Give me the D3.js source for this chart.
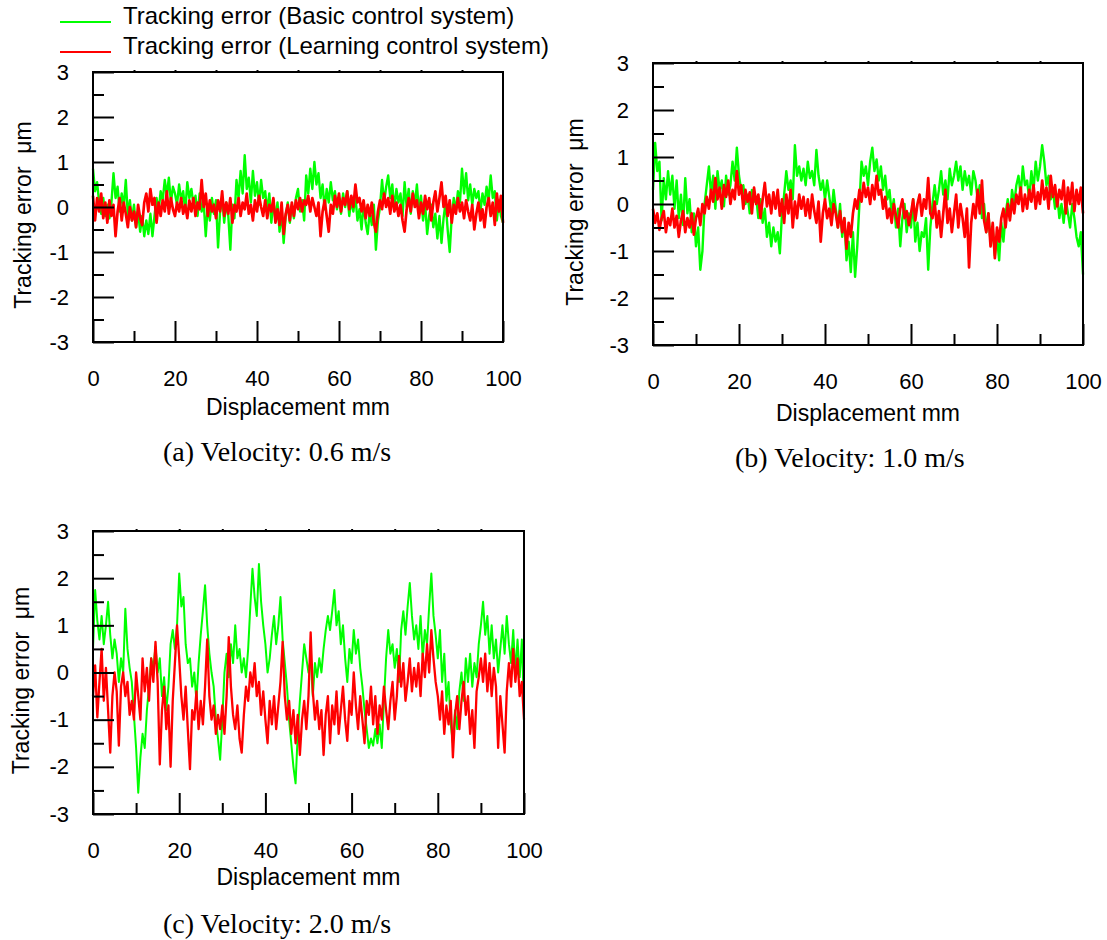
<!DOCTYPE html>
<html>
<head>
<meta charset="utf-8">
<script src="https://cdn.jsdelivr.net/npm/d3@7"></script>
<style>
  body { margin: 0; background: #fff; }
  svg { display: block; }
</style>
</head>
<body>
<svg id="chart" width="1107" height="940"></svg>
<script>
// tracking error charts, three velocities

const seriesNames = ['Tracking error (Basic control system)', 'Tracking error (Learning control system)'];
const captions = ['(a) Velocity: 0.6 m/s', '(b) Velocity: 1.0 m/s', '(c) Velocity: 2.0 m/s'];
const xTicks = [0, 20, 40, 60, 80, 100];
const yTicks = [-3, -2, -1, 0, 1, 2, 3];
const xMinor = [10, 30, 50, 70, 90];
const yMinor = [-2.5, -1.5, -0.5, 0.5, 1.5, 2.5];

// displacement samples, mm (every 0.5 mm)
const displacement = d3.range(0, 100.001, 0.5);

// (a) 0.6 m/s
const basicA = [
  0.85, 0.35, 0.55, 0.1, -0.15, 0.2, -0.2, 0.05, -0.25, 0.1,
  0.75, 0.2, 0.45, -0.1, 0.3, 0.0, 0.6, -0.2, 0.15, -0.3,
  0.05, -0.45, -0.1, -0.55, -0.2, -0.65, -0.3, -0.6, -0.15, -0.65,
  -0.2, 0.2, -0.1, 0.35, 0.15, 0.6, 0.25, 0.65, 0.1, 0.45,
  0.3, 0.05, 0.5, 0.15, 0.35, -0.1, 0.55, 0.2, 0.4, 0.05,
  0.25, -0.2, 0.3, -0.1, 0.1, -0.65, 0.05, -0.3, 0.2, -0.15,
  0.15, -0.9, -0.1, 0.2, -0.35, 0.1, -0.2, -0.95, 0.05, -0.25,
  0.6, 0.2, 0.8, 0.3, 1.15, 0.4, 0.65, 0.1, 0.8, 0.25,
  0.55, 0.05, 0.6, 0.2, 0.35, -0.1, 0.3, -0.35, 0.15, -0.3,
  0.1, -0.55, -0.1, -0.8, -0.2, 0.1, -0.35, 0.05, -0.25, 0.2,
  0.4, -0.1, 0.15, -0.3, 0.7, 0.3, 0.85, 0.4, 1.0, 0.5,
  0.75, 0.2, 0.5, -0.05, 0.4, 0.1, 0.55, 0.15, 0.35, -0.05,
  0.2, -0.15, 0.3, 0.0, 0.35, -0.2, 0.15, -0.1, 0.25, -0.3,
  -0.05, -0.5, 0.1, -0.35, -0.6, -0.1, -0.4, 0.05, -0.95, -0.3,
  0.0, 0.6, 0.1, 0.45, 0.7, 0.2, 0.5, -0.05, 0.4, 0.1,
  0.3, -0.2, 0.55, 0.0, 0.4, -0.15, 0.35, 0.05, 0.5, -0.1,
  0.25, -0.3, 0.1, -0.6, -0.2, 0.05, -0.45, -0.15, -0.7, -0.2,
  -0.8, -0.25, 0.1, -0.5, -1.0, -0.2, 0.2, -0.1, 0.35, 0.1,
  0.85, 0.3, 0.75, 0.15, 0.5, 0.05, 0.4, 0.2, 0.35, -0.1,
  0.3, 0.05, 0.45, 0.15, 0.7, 0.2, 0.35, -0.3, 0.15, -0.2,
  -0.35
];
const learningA = [
  0.25, -0.3, 0.2, -0.1, 0.3, -0.25, 0.1, -0.35, 0.15, -0.2,
  0.05, -0.65, -0.1, 0.2, -0.3, 0.1, -0.15, -0.45, 0.0, -0.3,
  -0.1, -0.45, 0.05, -0.25, -0.4, 0.1, 0.3, -0.1, 0.4, 0.05,
  0.2, -0.35, 0.1, -0.2, 0.15, -0.1, 0.35, -0.15, 0.2, -0.05,
  -0.2, 0.1, -0.1, 0.2, -0.15, 0.05, -0.25, 0.15, -0.1, 0.2,
  -0.2, 0.1, -0.05, 0.6, 0.0, 0.3, -0.2, 0.15, -0.1, 0.05,
  -0.25, 0.15, -0.1, 0.35, -0.2, 0.1, -0.15, 0.2, -0.35, 0.05,
  -0.1, 0.2, -0.2, 0.1, -0.05, 0.3, -0.15, 0.05, -0.3, 0.15,
  -0.1, 0.25, 0.0, -0.2, 0.15, -0.25, 0.05, -0.1, 0.2, -0.35,
  -0.05, -0.4, 0.1, -0.6, -0.15, 0.05, -0.3, 0.1, -0.2, 0.15,
  -0.05, 0.2, -0.1, 0.15, 0.05, 0.25, -0.1, 0.2, 0.0, -0.2,
  0.1, -0.65, -0.1, 0.15, -0.2, -0.55, 0.05, -0.15, 0.25, 0.0,
  0.3, -0.1, 0.2, 0.05, 0.35, -0.05, 0.25, 0.0, 0.5, 0.1,
  0.2, -0.1, 0.15, -0.25, 0.05, -0.2, 0.1, -0.35, -0.55, -0.1,
  0.15, -0.05, 0.3, 0.0, 0.2, -0.15, 0.25, -0.1, 0.1, -0.2,
  0.05, -0.3, -0.55, -0.05, 0.2, -0.1, 0.3, 0.0, 0.15, -0.25,
  0.1, -0.15, 0.25, -0.05, 0.2, -0.3, 0.1, 0.35, -0.1, 0.2,
  0.55, 0.0, 0.25, -0.2, 0.15, -0.35, 0.05, -0.15, 0.2, -0.1,
  0.1, -0.25, 0.15, -0.1, -0.3, 0.05, -0.5, -0.15, 0.1, -0.3,
  -0.05, -0.45, 0.0, 0.2, -0.2, 0.1, -0.4, 0.3, -0.1, 0.25,
  -0.35
];

// (b) 1.0 m/s
const basicB = [
  0.3, 1.3, 0.7, 0.9, -0.35, 0.55, 0.1, 0.7, 0.2, 0.6,
  -0.1, 0.5, -0.3, 0.2, -0.45, 0.55, -0.2, 0.1, -0.6, -0.2,
  -0.9, -0.5, -1.4, -1.0, 0.0, 0.4, 0.8, 0.2, 0.6, -0.1,
  0.7, 0.3, 0.5, -0.05, 0.6, 0.2, 0.4, 0.9, 0.5, 1.2,
  0.6, 0.3, 0.4, 0.0, 0.2, -0.2, 0.3, 0.05, 0.15, -0.3,
  0.1, -0.4, -0.1, -0.7, -0.4, -0.9, -0.5, -0.8, -0.6, -1.05,
  -0.2, 0.2, 0.7, 0.3, 0.5, 0.1, 1.25, 0.6, 0.8, 0.5,
  0.75, 0.4, 0.9, 0.55, 0.7, 0.4, 1.15, 0.6, 0.3, 0.5,
  0.1, 0.5, 0.15, -0.2, 0.3, -0.1, -0.5, 0.0, -0.7, -0.3,
  -1.2, -0.8, -1.45, -0.6, -1.55, -0.9, 0.0, 0.9, 0.6, 0.8,
  0.4, 0.9, 1.2, 0.7, 0.95, 0.5, 0.8, 0.3, 0.6, 0.1,
  0.3, -0.2, 0.1, -0.5, -0.1, -0.9, -0.3, 0.0, -0.6, -0.2,
  -0.5, 0.1, -0.8, -0.4, -1.0, -0.6, -0.7, -0.3, -1.4, -0.5,
  0.0, 0.4, 0.0, 0.3, 0.7, 0.2, 0.5, 0.1, 0.75, 0.4,
  0.6, 0.9, 0.5, 0.8, 0.3, 0.7, 0.4, 0.6, 0.2, 0.7,
  0.5, 0.1, 0.4, -0.3, 0.0, -0.6, -0.2, -0.8, -0.5, -1.1,
  -0.7, -1.2, -0.4, -0.8, -0.2, 0.1, -0.3, 0.3, 0.0, 0.4,
  0.6, 0.2, 0.8, 0.4, 0.5, 0.1, 0.7, 0.3, 0.9, 0.5,
  0.8, 1.25, 0.9, 0.4, 0.6, 0.1, 0.3, -0.1, 0.2, -0.3,
  0.0, -0.4, 0.1, -0.2, -0.5, 0.0, -0.3, -0.7, -0.9, -0.6,
  -1.5
];
const learningB = [
  -0.1, -0.4, -0.2, -0.55, -0.3, -0.15, -0.6, -0.3, -0.45, -0.1,
  -0.5, -0.25, -0.7, -0.35, -0.15, -0.6, -0.3, -0.5, -0.2, -0.65,
  -0.3, -0.1, -0.45, 0.0, -0.2, 0.15, -0.1, 0.3, 0.05, 0.55,
  0.1, 0.35, -0.1, 0.4, 0.15, 0.5, 0.0, 0.3, 0.1, 0.7,
  0.2, 0.4, -0.1, 0.3, 0.05, 0.25, -0.2, 0.35, 0.0, 0.2,
  -0.3, 0.1, 0.45, -0.05, 0.2, -0.2, 0.25, -0.1, 0.3, -0.25,
  0.1, -0.4, 0.2, -0.2, 0.3, -0.5, 0.05, -0.3, 0.2, -0.1,
  0.15, -0.25, 0.1, -0.3, 0.2, -0.15, -0.4, 0.05, -0.8, -0.2,
  0.1, -0.3, -0.1, -0.45, 0.0, -0.2, -0.5, -0.15, -0.6, -0.3,
  -0.95, -0.4, -0.7, -0.2, 0.1, -0.1, 0.3, 0.05, 0.45, 0.15,
  0.35, 0.0, 0.4, 0.1, 0.6, 0.2, 0.3, -0.1, 0.15, -0.3,
  -0.1, -0.4, 0.0, -0.25, -0.5, -0.1, 0.1, -0.3, -0.15, -0.45,
  -0.2, 0.1, -0.35, 0.0, 0.2, -0.25, 0.1, -0.1, 0.55, -0.2,
  -0.3, 0.05, -0.5, -0.15, -0.7, -0.2, 0.3, -0.4, -0.1, -0.6,
  -0.2, 0.2, -0.5, 0.0, -0.3, -0.7, -0.1, -1.35, -0.4, 0.0,
  -0.3, 0.3, -0.2, 0.5, -0.35, -0.6, -0.2, -0.9, -0.4, -1.15,
  -0.5, -0.8, -0.3, -0.1, -0.5, 0.0, -0.35, 0.1, -0.2, 0.2,
  0.0, 0.35, -0.15, 0.2, -0.1, 0.3, 0.05, 0.4, -0.1, 0.25,
  0.0, 0.5, 0.1, 0.35, -0.1, 0.6, 0.15, 0.4, -0.05, 0.3,
  0.1, 0.5, -0.2, 0.35, 0.0, 0.45, -0.15, 0.3, 0.0, 0.35,
  -0.2
];

// (c) 2.0 m/s
const basicC = [
  0.5, 1.75, 1.1, 0.7, 1.2, 0.6, 1.0, 1.5, 0.8, 0.3,
  0.7, 0.4, -0.2, 0.3, 0.0, 1.35, 0.5, 0.1, -0.2, -0.9,
  -1.6, -2.55, -1.8, -1.3, -1.6, -0.8, -0.3, 0.3, 0.1, 0.55,
  0.0, 0.3, -0.5, -0.1, -0.8, -0.3, 0.6, 0.9, 0.5, 1.0,
  2.1, 1.4, 1.6, 0.6, 0.2, 0.3, -0.3, 0.0, -0.6, 0.2,
  0.8, 1.3, 1.85, 1.0, 0.4, 0.0, -0.3, -1.0, -1.4, -1.85,
  -1.0, 0.0, 0.4, -0.1, 0.6, 0.2, 1.0, 0.3, 0.5, 0.0,
  0.3, -0.1, 0.5, 1.4, 2.2, 1.6, 1.2, 2.3, 1.5, 1.0,
  0.6, 0.0, 0.3, 0.8, 1.2, 0.6, 1.0, 1.6, 0.7, 0.2,
  -0.3, -1.0, -1.5, -2.0, -2.35, -1.3, -0.6, 0.0, 0.6, 0.3,
  0.0, 0.3, -0.5, 0.2, -0.1, 0.3, 0.0, 0.5, 0.9, 1.2,
  0.9, 1.3, 1.75, 1.0, 1.3, 0.6, 1.0, 0.3, -0.2, 0.5,
  0.2, 0.9, 0.4, 0.7, 0.1, -0.3, -0.8, -1.2, -1.6, -1.4,
  -1.55, -1.2, -1.5, -1.1, -1.6, -0.6, 0.3, 0.9, 0.4, 0.6,
  0.1, 0.5, -0.2, 0.9, 1.3, 0.8, 1.4, 1.9, 1.2, 0.7,
  1.0, 0.5, 1.2, 0.3, 0.9, 0.6, 1.4, 2.1, 1.2, 0.8,
  0.3, 0.9, -0.2, 0.4, -0.6, -0.2, -1.1, -1.5, -0.8, -1.2,
  -0.4, 0.0, -0.6, 0.3, -0.2, 0.4, -0.3, 0.2, -0.1, 0.6,
  1.0, 1.5, 0.8, 1.2, 0.4, 1.0, 0.3, 0.7, 0.0, 0.5,
  1.0, 0.4, 1.2, 0.6, 0.2, 0.9, 0.0, 0.7, -0.1, 0.7,
  -0.8
];
const learningC = [
  -0.5, 0.15, -0.95, -0.2, 0.5, -0.6, 0.1, -0.8, -1.7, -0.5,
  0.0, -0.4, -1.55, -0.3, 0.0, -0.5, -0.2, -0.9, -0.6, -1.0,
  0.0, -0.5, -1.0, 0.3, -0.4, 0.1, -0.6, 0.3, -0.2, 0.65,
  -0.2, -1.95, -0.8, -0.3, -1.2, -0.7, -2.0, -0.6, 0.2, 1.0,
  0.3, -0.5, -1.0, -0.3, -1.2, -2.05, -0.8, -1.0, -0.4, -1.2,
  -0.6, -1.1, -0.3, 0.7, -0.5, -1.0, -0.7, -1.3, -0.9, -1.2,
  -0.7, -1.3, -0.5, 0.75, -0.3, -0.9, -1.2, -0.7, -1.4, -1.7,
  -0.9, -0.3, -0.6, 0.0, -0.3, 0.2, -0.5, -0.2, -0.9, -0.4,
  -1.0, -1.5, -0.6, -1.1, -0.5, -1.2, -0.7, -0.2, 0.65, -0.5,
  -1.0, -0.6, -1.3, -0.8, -1.5, -0.9, -1.75, -1.0, -0.6, -1.2,
  -0.5, 0.85, -0.4, -1.0, -0.6, -1.2, -0.8, -1.75, -0.9, -0.5,
  -1.5, -0.7, -1.1, -0.4, -1.3, -0.8, -0.3, -1.0, -1.45, -0.6,
  -0.9, 0.0, -0.7, -1.2, -0.5, -1.0, -1.5, -0.6, -0.9, -0.3,
  -1.1, -0.5, -1.3, -0.7, -1.0, -0.3, -0.8, -1.2, -0.6, -0.2,
  -1.0, -0.5, 0.35, -0.3, 0.2, -0.6, -0.2, 0.3, -0.4, 0.1,
  -0.3, 0.2, -0.5, 0.4, -0.1, 0.6, 0.0, 0.9, 0.3, -0.2,
  -0.5, -1.0, -0.4, -1.3, -0.7, -1.1, -0.6, -1.8, -0.9, -0.5,
  -1.2, -0.6, -0.2, -0.9, -0.5, -1.3, -0.8, -1.6, -0.4, -0.1,
  0.3, -0.2, 0.4, -0.4, 0.2, -0.5, 0.1, -0.3, -1.6, -0.5,
  -1.1, -1.7, -0.4, 0.2, -0.3, 0.5, -0.2, 0.3, -0.5, -0.2,
  -1.0
];

const COLORS = { basic: '#00ff00', learning: '#ff0000' };
const SANS = 'Liberation Sans, Arial, sans-serif';
const SERIF = 'Liberation Serif, Times New Roman, serif';

const svg = d3.select('#chart');

function drawPanel(box, basic, learning, caption) {
  const { left, top, width, height, lw } = box;
  const g = svg.append('g').attr('transform', `translate(${left},${top})`);

  const x = d3.scaleLinear().domain([0, 100]).range([0, width]);
  const y = d3.scaleLinear().domain([-3, 3]).range([height, 0]);

  const line = d3.line()
    .x((d, i) => x(displacement[i]))
    .y(d => y(d));

  g.append('path')
    .datum(basic)
    .attr('fill', 'none')
    .attr('stroke', COLORS.basic)
    .attr('stroke-width', lw)
    .attr('stroke-linejoin', 'round')
    .attr('d', line);

  g.append('path')
    .datum(learning)
    .attr('fill', 'none')
    .attr('stroke', COLORS.learning)
    .attr('stroke-width', lw + 0.3)
    .attr('stroke-linejoin', 'round')
    .attr('d', line);

  const styleAxis = a => {
    a.select('.domain').remove();
    a.selectAll('.tick line').attr('stroke', '#000').attr('stroke-width', 2);
    a.selectAll('.tick text')
      .attr('fill', '#000')
      .attr('font-family', SANS)
      .attr('font-size', '22px');
  };

  // major / minor ticks, pointing inward
  g.append('g')
    .call(d3.axisLeft(y).tickValues(yTicks).tickSize(-21).tickPadding(24).tickFormat(d => String(d)))
    .call(styleAxis);
  g.append('g')
    .call(d3.axisLeft(y).tickValues(yMinor).tickSize(-11).tickFormat(''))
    .call(styleAxis);

  g.append('g')
    .attr('transform', `translate(0,${height})`)
    .call(d3.axisBottom(x).tickValues(xTicks).tickSize(-21).tickPadding(28))
    .call(styleAxis);
  g.append('g')
    .attr('transform', `translate(0,${height})`)
    .call(d3.axisBottom(x).tickValues(xMinor).tickSize(-11).tickFormat(''))
    .call(styleAxis);

  // small marks above the top border
  g.append('g')
    .call(d3.axisTop(x).tickValues(d3.range(10, 100, 10)).tickSize(2).tickFormat(''))
    .call(styleAxis);

  g.append('rect')
    .attr('width', width)
    .attr('height', height)
    .attr('fill', 'none')
    .attr('stroke', '#000')
    .attr('stroke-width', 2);

  g.append('text')
    .attr('x', width / 2)
    .attr('y', height + box.xTitleDy)
    .attr('text-anchor', 'middle')
    .attr('font-family', SANS)
    .attr('font-size', '23px')
    .text('Displacement mm');

  g.append('text')
    .attr('transform', `translate(${box.yTitleX - left},${height / 2 + 8}) rotate(-90)`)
    .attr('text-anchor', 'middle')
    .attr('font-family', SANS)
    .attr('font-size', '23px')
    .attr('xml:space', 'preserve')
    .text('Tracking error  \u03bcm');

  svg.append('text')
    .attr('x', caption.x)
    .attr('y', caption.y)
    .attr('font-family', SERIF)
    .attr('font-size', '28px')
    .text(caption.text);
}

drawPanel({ left: 93, top: 72, width: 410, height: 270, lw: 2.4, yTitleX: 31, xTitleDy: 73 },
  basicA, learningA, { x: 163, y: 461, text: captions[0] });
drawPanel({ left: 653, top: 63, width: 430, height: 282, lw: 2.4, yTitleX: 583, xTitleDy: 76 },
  basicB, learningB, { x: 735, y: 467, text: captions[1] });
drawPanel({ left: 93, top: 531, width: 431, height: 283, lw: 2, yTitleX: 29, xTitleDy: 71 },
  basicC, learningC, { x: 163, y: 933, text: captions[2] });

// legend
const legend = svg.append('g');
[COLORS.basic, COLORS.learning].forEach((c, i) => {
  const yy = 22 + i * 30;
  legend.append('line')
    .attr('x1', 60).attr('x2', 111)
    .attr('y1', yy).attr('y2', yy)
    .attr('stroke', c).attr('stroke-width', 2);
  legend.append('text')
    .attr('x', 123)
    .attr('y', yy + 2)
    .attr('font-family', SANS)
    .attr('font-size', '24px')
    .text(seriesNames[i]);
});
</script>
</body>
</html>
